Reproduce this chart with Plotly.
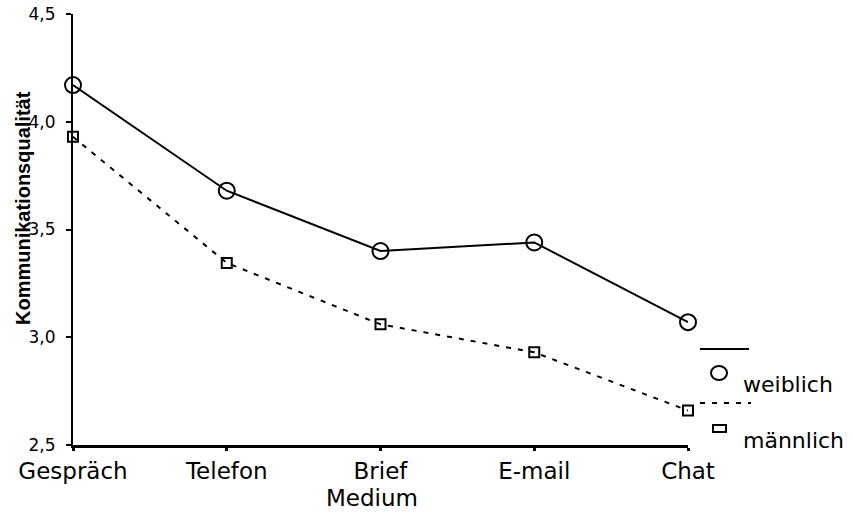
import plotly.graph_objects as go

categories = ["Gespräch", "Telefon", "Brief", "E-mail", "Chat"]
weiblich = [4.17, 3.68, 3.40, 3.44, 3.07]
maennlich = [3.93, 3.345, 3.06, 2.93, 2.66]
y_ticks = [2.5, 3.0, 3.5, 4.0, 4.5]

W, H = 853, 532
L_page, T_page, R_page, B_page = 73, 14, 688, 445
pw, ph = R_page - L_page, B_page - T_page
L, T = L_page, T_page
R, B = W - L - pw, H - T - ph

def px(x):
    return (x - L_page) / pw

def py(y):
    return 1 - (y - T_page) / ph

tick_font = "DejaVu Sans, Verdana, sans-serif"

fig = go.Figure()
fig.add_trace(go.Scatter(
    x=list(range(len(categories))), y=weiblich, mode="lines+markers", name="weiblich",
    line=dict(color="black", width=2),
    marker=dict(symbol="circle-open", size=16, color="black", line=dict(width=2)),
    cliponaxis=False, showlegend=False))
fig.add_trace(go.Scatter(
    x=list(range(len(categories))), y=maennlich, mode="lines+markers", name="männlich",
    line=dict(color="black", width=2, dash="5px,7px"),
    marker=dict(symbol="square-open", size=10, color="black", line=dict(width=2)),
    cliponaxis=False, showlegend=False))

fig.update_layout(
    template="none",
    width=W, height=H, margin=dict(l=L, r=R, t=T, b=B, autoexpand=False),
    paper_bgcolor="white", plot_bgcolor="white",
    font=dict(family=tick_font, color="black"),
    xaxis=dict(range=[0, 4], tickmode="array", tickvals=list(range(len(categories))),
               ticktext=categories, showgrid=False, zeroline=False, automargin=False,
               showline=True, linecolor="black", linewidth=3,
               ticks="outside", ticklen=3, tickwidth=3, tickcolor="black",
               tickfont=dict(size=23, family=tick_font)),
    yaxis=dict(range=[2.5, 4.5], tickmode="array", tickvals=y_ticks,
               ticktext=[f"{v:.1f}".replace(".", ",") for v in y_ticks],
               showgrid=False, zeroline=False, automargin=False,
               showline=True, linecolor="black", linewidth=2,
               ticks="outside", ticklen=5, tickwidth=2, tickcolor="black",
               ticklabelstandoff=7,
               tickfont=dict(size=17, family=tick_font)),
)

# axis titles
fig.add_annotation(x=px(372), y=py(498), xref="paper", yref="paper", text="Medium",
                   xanchor="center", yanchor="middle",
                   showarrow=False, font=dict(size=23, family=tick_font))
fig.add_annotation(x=px(23), y=py(208), xref="paper", yref="paper",
                   text="<b>Kommunikationsqualität</b>", textangle=-90,
                   xanchor="center", yanchor="middle",
                   showarrow=False, font=dict(size=20, family="Liberation Sans, Arial, sans-serif"))

# custom legend
fig.add_shape(type="line", xref="paper", yref="paper",
              x0=px(700), x1=px(749), y0=py(349), y1=py(349),
              line=dict(color="black", width=2))
fig.add_shape(type="line", xref="paper", yref="paper",
              x0=px(700), x1=px(751), y0=py(403), y1=py(403),
              line=dict(color="black", width=2, dash="5px,7px"))
fig.add_shape(type="circle", xref="paper", yref="paper",
              x0=px(711), x1=px(727), y0=py(366), y1=py(380),
              line=dict(color="black", width=2))
fig.add_shape(type="rect", xref="paper", yref="paper",
              x0=px(713), x1=px(726), y0=py(425), y1=py(432),
              line=dict(color="black", width=2))
fig.add_annotation(x=px(741), y=py(384), xref="paper", yref="paper", text="weiblich",
                   xanchor="left", yanchor="middle", showarrow=False,
                   font=dict(size=22, family=tick_font))
fig.add_annotation(x=px(741), y=py(440), xref="paper", yref="paper", text="männlich",
                   xanchor="left", yanchor="middle", showarrow=False,
                   font=dict(size=22, family=tick_font))

fig.write_html("out.html", config={"displayModeBar": False},
               post_script="document.body.style.margin='0';")
